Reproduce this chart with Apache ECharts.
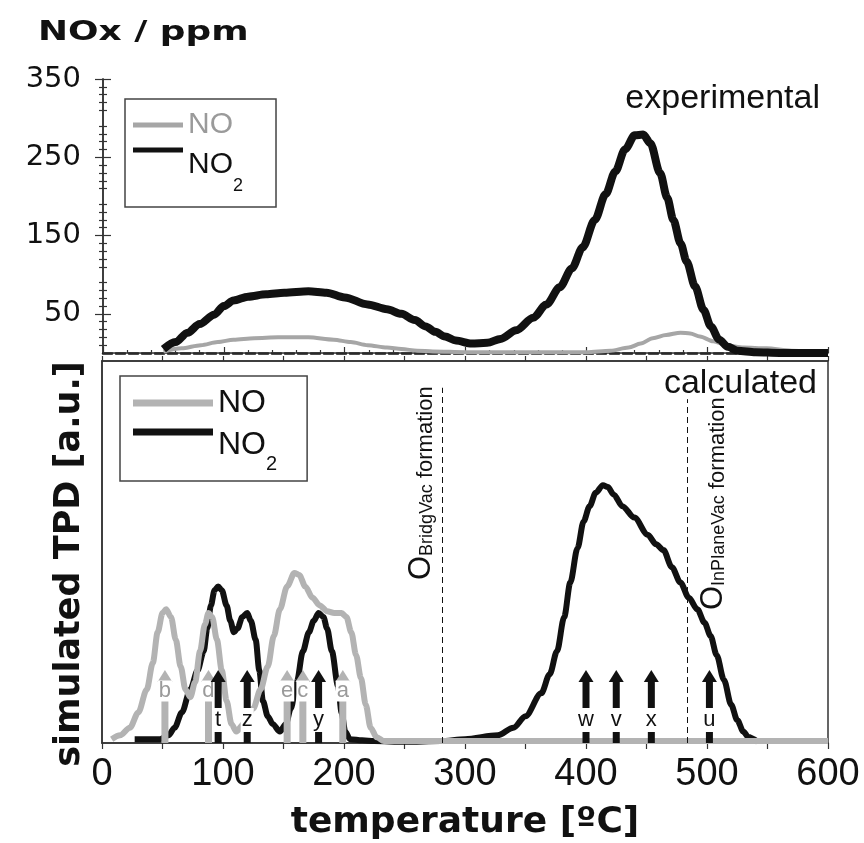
<!DOCTYPE html>
<html><head><meta charset="utf-8">
<script src="https://cdn.jsdelivr.net/npm/echarts@6/dist/echarts.min.js"></script>
<style>html,body{margin:0;padding:0;background:#fff}#c{width:864px;height:843px}</style>
</head><body><div id="c"></div>
<script>
// ---------- data ----------
const xTickLabels = [0, 100, 200, 300, 400, 500, 600];
const yTickLabelsTop = [50, 150, 250, 350];

// experimental (ppm) [temperature, value]
const expNO = [[50,2],[65,6],[81,10],[95,14],[108,17],[125,19],[145,20],[170,20],[191,17],[205,14],[219,10],[235,7],[247,5],[260,3],[273,2],[300,1],[350,1],[400,1],[420,3],[435,7],[445,12],[455,19],[466,23],[478,26],[486,25],[494,21],[505,15],[516,10],[530,7],[549,6],[570,3],[600,1]];
const expNO2 = [[50,5],[60,14],[70,26],[80,37],[92,49],[100,60],[108,67],[120,72],[135,75],[150,77],[170,79],[185,77],[200,71],[219,62],[235,56],[247,50],[258,42],[267,34],[275,27],[283,21],[292,16],[305,12],[318,13],[329,18],[342,29],[356,45],[367,62],[378,84],[388,108],[397,135],[407,170],[416,203],[424,232],[432,260],[440,278],[447,279],[453,268],[461,230],[467,198],[472,170],[478,140],[483,117],[490,85],[497,55],[503,34],[510,17],[517,8],[525,3],[540,1],[560,0],[580,0],[600,0]];

// calculated (a.u.)
const calcNO = [[8,1],[15,2],[23,4],[30,8],[37,14],[42,21],[46,29],[50,34],[53,35],[57,33],[61,27],[65,20],[69,14],[73,12],[77,16],[81,24],[85,31],[88,34],[91,33],[95,27],[99,19],[103,11],[107,5],[111,3],[117,5],[125,9],[131,14],[137,20],[142,28],[147,35],[153,41],[159,44.5],[163,44],[168,41],[174,38],[180,36],[186,34.5],[192,34],[198,34],[202,33],[206,29],[210,23],[214,17],[218,10],[222,4],[227,1.5],[233,0.5],[300,0.5],[400,0.5],[500,0.5],[600,0.5]];
const calcNO2 = [[27,1],[48,1],[55,2],[60,4],[66,8],[73,14],[79,19],[84,24],[87,30],[90,36],[93,40],[96,41],[99,40],[103,36],[106,32],[109,29],[112,30],[116,33],[120,34],[123,32],[127,27],[130,19],[133,11],[137,7],[141,5],[147,3],[152,5],[156,9],[161,16],[166,24],[171,29],[175,32],[179,34],[183,33],[186,30],[190,24],[195,15],[198,8],[201,3],[205,1],[215,0.7],[225,0.5],[250,0.3],[280,0.5],[300,1],[327,2],[340,4],[350,7],[363,13],[370,18],[376,24],[382,33],[387,42],[393,51],[398,58],[403,62],[408,65.5],[414,67.5],[418,67],[423,65],[430,62],[440,59],[451,54.5],[458,52],[464,50.5],[471,46],[478,42],[485,38],[492,35],[498,31.5],[503,28],[508,23],[514,16.5],[520,10],[525,6],[530,3],[534,1.6],[542,0.3]];

const grayArrowT = [52, 88, 153, 166, 199];
const grayArrowLabels = ['b', 'd', 'e', 'c', 'a'];
const blackArrowT = [96, 120, 179, 400, 425, 454, 502];
const blackArrowLabels = ['t', 'z', 'y', 'w', 'v', 'x', 'u'];

const vacancyT = [281, 484];
const vacancyTop = [93, 90];
const vacancyNames = ['BridgVac', 'InPlaneVac'];

// ---------- chart ----------
const chart = echarts.init(document.getElementById('c'), null, {renderer: 'canvas'});
const INK = '#111';
const GRAY_EXP = '#a6a6a6';
const GRAY_CALC = '#b3b3b3';
const GRAY_TXT = '#9a9a9a';

function arrowRenderer(labels, kind) {
  return function (params, api) {
    const i = params.dataIndex;
    const p = api.coord([api.value(0), 0]);
    const x = p[0], y0 = p[1];
    const color = kind === 'gray' ? GRAY_CALC : INK;
    const children = [];
    children.push({type: 'polygon', shape: {points: [[x, y0 - 73], [x - 7.5, y0 - 61], [x + 7.5, y0 - 61]]}, style: {fill: color}});
    if (kind === 'gray') {
      children.push({type: 'rect', shape: {x: x - 3.5, y: y0 - 43, width: 7, height: 43}, style: {fill: color}});
      children.push({type: 'text', x: x, y: y0 - 52, style: {text: labels[i], fill: GRAY_TXT, fontFamily: 'Liberation Sans', fontSize: 22, lineHeight: 21, align: 'center', verticalAlign: 'middle', backgroundColor: '#fff', padding: [0, 1]}});
    } else {
      children.push({type: 'rect', shape: {x: x - 3.5, y: y0 - 61, width: 7, height: 26}, style: {fill: color}});
      children.push({type: 'rect', shape: {x: x - 3.5, y: y0 - 11, width: 7, height: 11}, style: {fill: color}});
      children.push({type: 'text', x: x, y: y0 - 23, style: {text: labels[i], fill: INK, fontFamily: 'Liberation Sans', fontSize: 22, lineHeight: 24, align: 'center', verticalAlign: 'middle', backgroundColor: '#fff', padding: [0, 1]}});
    }
    return {type: 'group', children: children};
  };
}

function vacancyRenderer(params, api) {
  const i = params.dataIndex;
  const p = api.coord([api.value(0), 0]);
  const dx = i === 0 ? -36 : 10;
  const up = i === 0 ? 163 : 133;
  return {
    type: 'text', x: p[0] + dx, y: p[1] - up, rotation: Math.PI / 2,
    style: {
      text: '{o|O}{s|' + vacancyNames[i] + '}{f| formation}',
      x: 0, y: 0, align: 'left', verticalAlign: 'top', fill: INK,
      rich: {
        o: {fontFamily: 'Liberation Sans', fontSize: 31, lineHeight: 31, verticalAlign: 'top', fill: INK},
        s: {fontFamily: 'Liberation Sans', fontSize: 18, lineHeight: 18, verticalAlign: 'top', padding: [12, 0, 0, 0], fill: INK},
        f: {fontFamily: 'Liberation Sans', fontSize: 22, lineHeight: 22, verticalAlign: 'top', padding: [9, 0, 0, 0], fill: INK}
      }
    }
  };
}

function legendFor(opts) {
  return {
    orient: 'vertical', left: opts.left, top: opts.top,
    padding: opts.padding,
    itemWidth: opts.itemWidth, itemHeight: opts.itemHeight, itemGap: opts.itemGap,
    icon: 'rect', selectedMode: false,
    borderColor: '#444', borderWidth: 1.5, borderRadius: 0,
    backgroundColor: '#fff',
    textStyle: {
      fontFamily: 'Liberation Sans', fontSize: opts.fs, lineHeight: opts.fs, color: INK,
      rich: {
        m: {fontFamily: 'Liberation Sans', fontSize: opts.fs, lineHeight: opts.fs, verticalAlign: 'top', padding: [opts.P, 0, 0, 0]},
        s: {fontFamily: 'Liberation Sans', fontSize: opts.sfs, lineHeight: opts.sfs, verticalAlign: 'top', padding: [opts.Q, 0, 0, 0]}
      }
    },
    formatter: function (n) { return n === 'NO2' ? '{m|NO}{s|2}' : n; },
    data: [
      {name: 'NO', itemStyle: {color: opts.noColor}, textStyle: {color: opts.noText}},
      {name: 'NO2', itemStyle: {color: INK}}
    ]
  };
}

const axisLineStyle = {color: '#333', width: 1.5};

const option = {
  backgroundColor: '#fff',
  animation: false,
  grid: [
    {left: 103, top: 79, width: 725, height: 274, show: false},
    {left: 102, top: 361, width: 726, height: 382, show: true, borderColor: '#333', borderWidth: 1.5, backgroundColor: 'transparent'}
  ],
  legend: [
    legendFor({left: 125, top: 99, padding: [11, 33, 12, 8], itemWidth: 50, itemHeight: 5, itemGap: -5, fs: 30, sfs: 18, P: 15, Q: 42, noColor: GRAY_EXP, noText: GRAY_TXT}),
    legendFor({left: 120, top: 376, padding: [11, 30, 7, 13], itemWidth: 80, itemHeight: 7, itemGap: -3, fs: 32, sfs: 20, P: 13, Q: 38, noColor: GRAY_CALC, noText: INK})
  ],
  xAxis: [
    {gridIndex: 0, type: 'value', position: 'bottom', min: 0, max: 600, interval: 100,
      axisLine: {show: true, lineStyle: {color: INK, width: 2.5, type: [9, 4]}},
      axisTick: {show: false}, axisLabel: {show: false}, splitLine: {show: false}},
    {gridIndex: 0, type: 'value', position: 'top', min: 0, max: 600, interval: 100,
      axisLine: {show: true, lineStyle: axisLineStyle},
      axisTick: {show: true, length: 6, lineStyle: {color: '#333', width: 1.2}},
      minorTick: {show: true, splitNumber: 5, length: 3, lineStyle: {color: '#333', width: 1.2}},
      axisLabel: {show: false}, splitLine: {show: false}},
    {gridIndex: 1, type: 'value', position: 'bottom', min: 0, max: 600, interval: 50,
      axisLine: {show: true, lineStyle: axisLineStyle},
      axisTick: {show: true, length: 6, lineStyle: {color: '#333', width: 1.2}},
      axisLabel: {show: true, customValues: xTickLabels, fontFamily: 'Liberation Sans', fontSize: 38, color: INK, margin: 13},
      splitLine: {show: false},
      name: 'temperature [ºC]', nameLocation: 'middle', nameGap: 62,
      nameTextStyle: {fontFamily: 'DejaVu Sans', fontWeight: 'bold', fontSize: 36, color: INK}},
    {gridIndex: 1, type: 'value', position: 'top', min: 0, max: 600, interval: 50,
      axisLine: {show: true, lineStyle: axisLineStyle},
      axisTick: {show: true, length: 5, lineStyle: {color: '#333', width: 1.2}},
      axisLabel: {show: false}, splitLine: {show: false}}
  ],
  yAxis: [
    {gridIndex: 0, type: 'value', position: 'left', min: 0, max: 350, interval: 50,
      axisLine: {show: true, lineStyle: axisLineStyle},
      axisTick: {show: true, customValues: yTickLabelsTop, length: 8, lineStyle: {color: '#333', width: 1.2}},
      minorTick: {show: true, splitNumber: 5, length: 4, lineStyle: {color: '#333', width: 1.2}},
      axisLabel: {show: true, customValues: yTickLabelsTop, fontFamily: 'DejaVu Sans', fontSize: 29, color: INK, margin: 22},
      splitLine: {show: false}},
    {gridIndex: 0, type: 'value', position: 'right', min: 0, max: 350, interval: 50,
      axisLine: {show: true, lineStyle: axisLineStyle},
      axisTick: {show: true, customValues: yTickLabelsTop, length: 8, lineStyle: {color: '#333', width: 1.2}},
      minorTick: {show: true, splitNumber: 5, length: 4, lineStyle: {color: '#333', width: 1.2}},
      axisLabel: {show: false}, splitLine: {show: false}},
    {gridIndex: 1, type: 'value', position: 'left', min: 0, max: 100,
      axisLine: {show: true, lineStyle: axisLineStyle},
      axisTick: {show: false}, axisLabel: {show: false}, splitLine: {show: false},
      name: 'simulated TPD [a.u.]', nameLocation: 'middle', nameGap: 15,
      nameTextStyle: {fontFamily: 'DejaVu Sans', fontWeight: 'bold', fontSize: 35, color: INK, padding: [0, 24, 0, 0]}}
  ],
  series: [
    {name: 'NO', type: 'line', xAxisIndex: 0, yAxisIndex: 0, data: expNO, showSymbol: false, smooth: 0.3, smoothMonotone: 'x',
      lineStyle: {color: GRAY_EXP, width: 4}, itemStyle: {color: GRAY_EXP}, z: 2},
    {name: 'NO2', type: 'line', xAxisIndex: 0, yAxisIndex: 0, data: expNO2, showSymbol: false, smooth: 0.3, smoothMonotone: 'x',
      lineStyle: {color: INK, width: 8}, itemStyle: {color: INK}, z: 3},
    {name: 'NO2', type: 'line', xAxisIndex: 2, yAxisIndex: 2, data: calcNO2, showSymbol: false, smooth: 0.3, smoothMonotone: 'x',
      lineStyle: {color: INK, width: 6}, itemStyle: {color: INK}, z: 2,
      markLine: {silent: true, symbol: 'none', label: {show: false},
        lineStyle: {color: INK, width: 1, type: [6, 4]},
        data: vacancyT.map((t, i) => [{coord: [t, 0]}, {coord: [t, vacancyTop[i]]}])}},
    {name: 'NO', type: 'line', xAxisIndex: 2, yAxisIndex: 2, data: calcNO, showSymbol: false, smooth: 0.3, smoothMonotone: 'x',
      lineStyle: {color: GRAY_CALC, width: 6}, itemStyle: {color: GRAY_CALC}, z: 3},
    {name: 'grayArrows', type: 'custom', xAxisIndex: 2, yAxisIndex: 2, z: 5, silent: true,
      data: grayArrowT.map(t => [t, 0]), encode: {x: 0, y: 1},
      renderItem: arrowRenderer(grayArrowLabels, 'gray')},
    {name: 'blackArrows', type: 'custom', xAxisIndex: 2, yAxisIndex: 2, z: 6, silent: true,
      data: blackArrowT.map(t => [t, 0]), encode: {x: 0, y: 1},
      renderItem: arrowRenderer(blackArrowLabels, 'black')},
    {name: 'vacancyLabels', type: 'custom', xAxisIndex: 2, yAxisIndex: 2, z: 6, silent: true,
      data: vacancyT.map(t => [t, 0]), encode: {x: 0, y: 1},
      renderItem: vacancyRenderer}
  ],
  graphic: [
    {type: 'text', x: 38, y: 33, scaleX: 1.38, scaleY: 1,
      style: {text: 'NOx / ppm', fontFamily: 'DejaVu Sans', fontWeight: 'bold', fontSize: 26, fill: INK, align: 'left', verticalAlign: 'middle'}},
    {type: 'text', x: 820, y: 99,
      style: {text: 'experimental', fontFamily: 'Liberation Sans', fontSize: 34, fill: INK, align: 'right', verticalAlign: 'middle'}},
    {type: 'text', x: 817, y: 384,
      style: {text: 'calculated', fontFamily: 'Liberation Sans', fontSize: 34, fill: INK, align: 'right', verticalAlign: 'middle'}}
  ]
};
chart.setOption(option);
</script>
</body></html>
